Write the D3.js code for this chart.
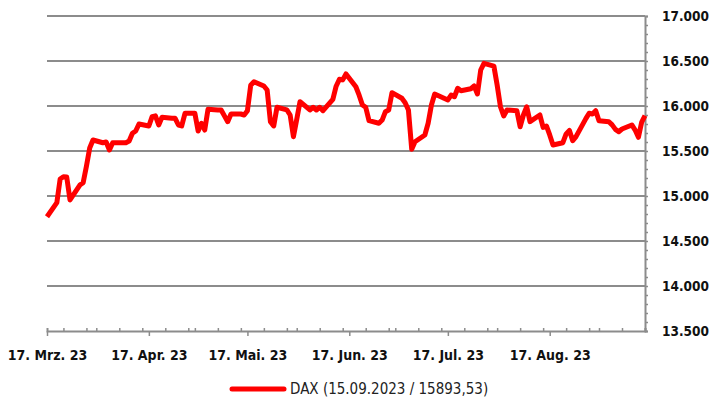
<!DOCTYPE html>
<html>
<head>
<meta charset="utf-8">
<script src="https://cdn.jsdelivr.net/npm/d3@7"></script>
<style>
  body { margin: 0; background: #fff; }
  svg text { font-family: "DejaVu Sans Condensed", "DejaVu Sans", sans-serif; font-stretch: condensed; }
</style>
</head>
<body>
<script>
// DAX daily closes (holidays repeat the last close)
var dates = [
  '2023-03-17','2023-03-20','2023-03-21','2023-03-22','2023-03-23','2023-03-24','2023-03-27','2023-03-28','2023-03-29','2023-03-30','2023-03-31',
  '2023-04-03','2023-04-04','2023-04-05','2023-04-06','2023-04-07','2023-04-10','2023-04-11','2023-04-12','2023-04-13','2023-04-14',
  '2023-04-17','2023-04-18','2023-04-19','2023-04-20','2023-04-21','2023-04-24','2023-04-25','2023-04-26','2023-04-27','2023-04-28',
  '2023-05-01','2023-05-02','2023-05-03','2023-05-04','2023-05-05','2023-05-08','2023-05-09','2023-05-10','2023-05-11','2023-05-12',
  '2023-05-15','2023-05-16','2023-05-17','2023-05-18','2023-05-19','2023-05-22','2023-05-23','2023-05-24','2023-05-25','2023-05-26',
  '2023-05-29','2023-05-30','2023-05-31','2023-06-01','2023-06-02','2023-06-05','2023-06-06','2023-06-07','2023-06-08','2023-06-09',
  '2023-06-12','2023-06-13','2023-06-14','2023-06-15','2023-06-16','2023-06-19','2023-06-20','2023-06-21','2023-06-22','2023-06-23',
  '2023-06-26','2023-06-27','2023-06-28','2023-06-29','2023-06-30','2023-07-03','2023-07-04','2023-07-05','2023-07-06','2023-07-07',
  '2023-07-10','2023-07-11','2023-07-12','2023-07-13','2023-07-14','2023-07-17','2023-07-18','2023-07-19','2023-07-20','2023-07-21',
  '2023-07-24','2023-07-25','2023-07-26','2023-07-27','2023-07-28','2023-07-31','2023-08-01','2023-08-02','2023-08-03','2023-08-04',
  '2023-08-07','2023-08-08','2023-08-09','2023-08-10','2023-08-11','2023-08-14','2023-08-15','2023-08-16','2023-08-17','2023-08-18',
  '2023-08-21','2023-08-22','2023-08-23','2023-08-24','2023-08-25','2023-08-28','2023-08-29','2023-08-30','2023-08-31','2023-09-01',
  '2023-09-04','2023-09-05','2023-09-06','2023-09-07','2023-09-08','2023-09-11','2023-09-12','2023-09-13','2023-09-14','2023-09-15'
];
var values = [
  14770,14926,15189,15214,15211,14956,15122,15148,15330,15533,15622,
  15592,15600,15511,15592,15592,15592,15611,15697,15722,15800,
  15778,15881,15890,15789,15874,15865,15863,15789,15778,15919,
  15919,15722,15808,15733,15963,15956,15956,15890,15826,15911,
  15911,15900,15948,16230,16270,16222,16178,15826,15778,15986,
  15956,15900,15659,15850,16048,15956,15986,15956,15986,15948,
  16074,16220,16297,16290,16356,16214,16120,16011,15986,15837,
  15808,15844,15937,15956,16148,16086,16037,15956,15519,15603,
  15678,15808,16011,16133,16117,16067,16122,16103,16197,16170,
  16192,16222,16133,16400,16474,16444,16233,15992,15889,15956,
  15948,15770,15900,15992,15826,15900,15763,15778,15678,15567,
  15592,15690,15728,15614,15660,15860,15920,15911,15948,15837,
  15826,15790,15740,15714,15744,15789,15733,15652,15822,15893.53
];
var yTicks = [13500, 14000, 14500, 15000, 15500, 16000, 16500, 17000];
var xLabels = ['17. Mrz. 23', '17. Apr. 23', '17. Mai. 23', '17. Jun. 23', '17. Jul. 23', '17. Aug. 23'];
var legendLabel = 'DAX (15.09.2023 / 15893,53)';

var Chart = {
  w : 713,
  h : 400,
  // plot area
  left : 47,
  right : 645,
  top : 16,
  bottom : 331,
  grey : '#8c8c8c',
  red : '#ff0000',
  svg : {}
};

Chart.init = function() {
  var parse = d3.timeParse('%Y-%m-%d');
  var data = dates.map(function( d, i ) {
    return { date : parse( d ), value : values[i] };
  });

  this.svg = d3.select( 'body' )
              .append( 'svg' )
              .attr( 'width', this.w )
              .attr( 'height', this.h );

  // 26 weeks, from 17.03 to 15.09
  var x = d3.scaleTime()
            .domain( [ parse( '2023-03-17' ), parse( '2023-09-15' ) ] )
            .range( [ this.left, this.right ] );
  var y = d3.scaleLinear()
            .domain( [ 13500, 17000 ] )
            .range( [ this.bottom, this.top ] );

  // horizontal grid
  this.svg.append( 'g' )
          .selectAll( 'line' )
          .data( yTicks.slice( 1 ) )
          .enter()
          .append( 'line' )
          .attr( 'x1', this.left )
          .attr( 'x2', this.right )
          .attr( 'y1', function( d ) { return y( d ); } )
          .attr( 'y2', function( d ) { return y( d ); } )
          .attr( 'stroke', this.grey )
          .attr( 'stroke-width', 2 );

  // right value axis, minor ticks every 100
  var yAxis = d3.axisRight( y )
                .tickValues( d3.range( 13500, 17001, 100 ) )
                .tickSize( 3 )
                .tickFormat( '' );
  var gy = this.svg.append( 'g' )
                   .attr( 'transform', 'translate(' + this.right + ',0)' )
                   .call( yAxis );
  gy.select( '.domain' ).attr( 'stroke', this.grey ).attr( 'stroke-width', 2 );
  gy.selectAll( '.tick line' ).attr( 'stroke', this.grey ).attr( 'stroke-width', 1.5 );

  this.svg.append( 'g' )
          .selectAll( 'text' )
          .data( yTicks )
          .enter()
          .append( 'text' )
          .attr( 'x', this.right + 17 )
          .attr( 'y', function( d ) { return y( d ); } )
          .attr( 'dy', '0.36em' )
          .attr( 'font-size', 13.5 )
          .attr( 'font-weight', 'bold' )
          .attr( 'fill', '#111' )
          .text( function( d ) { return d3.format( ',' )( d ).replace( ',', '.' ); } );

  // bottom axis: weekly ticks up, monthly ticks down
  var weekly = d3.axisTop( x )
                 .tickValues( d3.timeDay.every( 7 ).range( x.domain()[0], d3.timeDay.offset( x.domain()[1], 1 ) ) )
                 .tickSize( 3 )
                 .tickFormat( '' );
  var gx = this.svg.append( 'g' )
                   .attr( 'transform', 'translate(0,' + this.bottom + ')' )
                   .call( weekly );
  gx.select( '.domain' ).attr( 'stroke', this.grey ).attr( 'stroke-width', 2 );
  gx.selectAll( '.tick line' ).attr( 'stroke', this.grey ).attr( 'stroke-width', 1.5 );

  // one tick and one label on the 17th of every month
  var months = xLabels.map(function( d, i ) { return d3.timeMonth.offset( x.domain()[0], i ); });
  var monthly = d3.axisBottom( x )
                  .tickValues( months )
                  .tickSize( 5 )
                  .tickSizeOuter( 0 )
                  .tickPadding( 14 )
                  .tickFormat( function( d, i ) { return xLabels[i]; } );
  var gm = this.svg.append( 'g' )
                   .attr( 'transform', 'translate(0,' + this.bottom + ')' )
                   .call( monthly );
  gm.select( '.domain' ).remove();
  gm.selectAll( '.tick line' ).attr( 'stroke', this.grey ).attr( 'stroke-width', 1.5 );
  gm.selectAll( '.tick text' )
    .attr( 'font-size', 14 )
    .attr( 'font-weight', 'bold' )
    .attr( 'fill', '#111' );

  // the DAX line
  var line = d3.line()
               .x( function( d ) { return x( d.date ); } )
               .y( function( d ) { return y( d.value ); } );
  this.svg.append( 'path' )
          .datum( data )
          .attr( 'd', line )
          .attr( 'fill', 'none' )
          .attr( 'stroke', this.red )
          .attr( 'stroke-width', 5 )
          .attr( 'stroke-linejoin', 'round' );

  // legend
  var lg = this.svg.append( 'g' ).attr( 'transform', 'translate(230,389)' );
  lg.append( 'line' )
    .attr( 'x1', 2 ).attr( 'x2', 54 )
    .attr( 'stroke', this.red )
    .attr( 'stroke-width', 5 )
    .attr( 'stroke-linecap', 'round' );
  lg.append( 'text' )
    .attr( 'x', 60 )
    .attr( 'dy', '0.36em' )
    .attr( 'font-size', 15 )
    .attr( 'fill', '#222' )
    .text( legendLabel );
};

Chart.init();
</script>
</body>
</html>
